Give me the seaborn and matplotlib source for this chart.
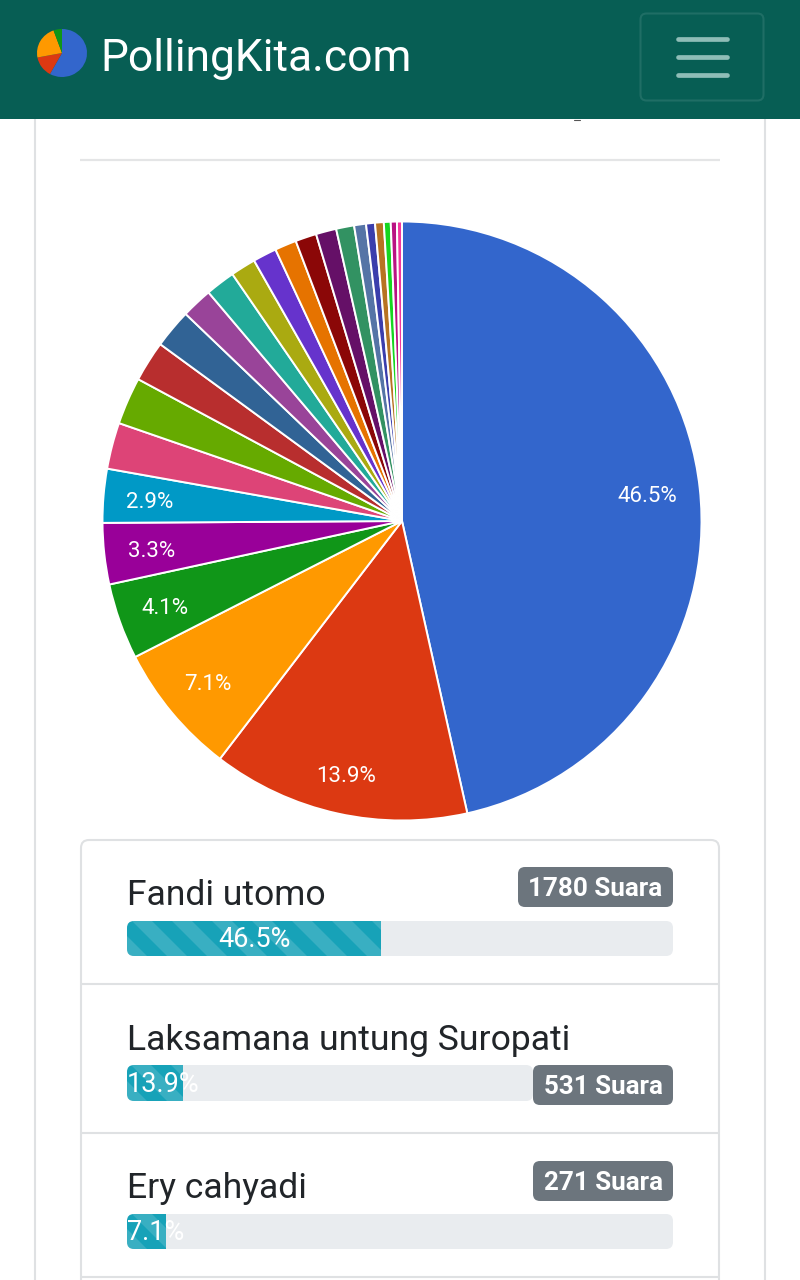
import matplotlib
matplotlib.use("Agg")
import matplotlib.pyplot as plt
import seaborn as sns
from matplotlib.patches import FancyBboxPatch, Polygon, Rectangle
from matplotlib.transforms import Bbox, TransformedBbox

# Vote shares, clockwise from twelve o'clock
shares = [46.5, 13.9, 7.1, 4.1, 3.3, 2.9, 2.5, 2.55, 2.2, 2.1, 1.67, 1.6,
          1.36, 1.28, 1.17, 1.14, 1.1, 0.97, 0.64, 0.48, 0.47, 0.37, 0.33, 0.27]
slice_colors = ["#3366cc", "#dc3912", "#ff9900", "#109618", "#990099", "#0099c6",
                "#dd4477", "#66aa00", "#b82e2e", "#316395", "#994499", "#22aa99",
                "#aaaa11", "#6633cc", "#e67300", "#8b0707", "#651067", "#329262",
                "#5574a6", "#3b3eac", "#b77322", "#16d620", "#b91383", "#f4359e"]

# Top candidates in the ranking list
candidates = ["Fandi utomo", "Laksamana untung Suropati", "Ery cahyadi"]
candidate_pct = [46.5, 13.9, 7.1]
candidate_votes = ["1780 Suara", "531 Suara", "271 Suara"]

# Site logo: a tiny pie
logo_shares = [58, 14, 22.5, 5.5]
logo_colors = ["#3366cc", "#dc3912", "#ff9900", "#109618"]

W, H = 800, 1280
HEADER = "#075e54"
RULE = "#dfe1e3"
INK = "#212529"
TRACK = "#e9ecef"
FILL = "#17a2b8"
BADGE = "#6c757d"


def px(size):
    """Font size in points for a size given in pixels at 100 dpi."""
    return size * 0.72


def axes_at(x0, y0, x1, y1, z):
    """Axes placed by its pixel box, with y counted from the top."""
    ax = fig.add_axes([x0 / W, 1 - y1 / H, (x1 - x0) / W, (y1 - y0) / H], zorder=z)
    ax.set_axis_off()
    return ax


sns.set_theme(style="white")
plt.rcParams["font.family"] = ["Roboto", "DejaVu Sans"]
fig = plt.figure(figsize=(W / 100, H / 100), dpi=100, facecolor="white")

# Page furniture drawn in pixel coordinates
page = axes_at(0, 0, W, H, 0)
page.set_xlim(0, W)
page.set_ylim(H, 0)
for x in (35, 765):
    page.plot([x, x], [119, H], color=RULE, lw=1.5, solid_capstyle="butt")
page.plot([80, 720], [159.5, 159.5], color="#e4e5e6", lw=1.6, solid_capstyle="butt")

# Ranking list frame
page.add_patch(FancyBboxPatch((81, 840), 638, 470, boxstyle="round,pad=0,rounding_size=8",
                              fc="white", ec=RULE, lw=1.5))
for y in (984, 1133, 1277):
    page.plot([81, 719], [y, y], color=RULE, lw=1.5, solid_capstyle="butt")

# Header band, with the descender of the scrolled-away heading just below it
page.plot([574, 580], [119.6, 119.6], color="#555555", lw=0.8, solid_capstyle="round")
page.add_patch(Rectangle((0, 0), W, 119, fc=HEADER, ec="none", zorder=5))
page.add_patch(FancyBboxPatch((640.5, 13.5), 123, 87, boxstyle="round,pad=0,rounding_size=6",
                              fc="none", ec="#1f6e65", lw=1.5, zorder=6))
for y in (38.5, 56.5, 75):
    page.plot([678, 727], [y, y], color="#8fbdb7", lw=3.4, solid_capstyle="round", zorder=6)
page.text(100.5, 71, "PollingKita.com", color="white", fontsize=px(44.4), zorder=6,
          ha="left", va="baseline")

logo = axes_at(37, 29, 87, 77, 3)
logo.pie(logo_shares, colors=logo_colors, startangle=90, counterclock=False, radius=1,
         wedgeprops=dict(linewidth=0))
logo.set_aspect("auto")
logo.set_xlim(-1, 1)
logo.set_ylim(-1, 1)

# Main pie
RADIUS = 299.5
pie_ax = axes_at(402 - RADIUS, 521 - RADIUS, 402 + RADIUS, 521 + RADIUS, 1)
_, _, pct_labels = pie_ax.pie(shares, colors=slice_colors, startangle=90, counterclock=False,
                              radius=1, wedgeprops=dict(edgecolor="white", linewidth=1.4),
                              autopct=lambda p: f"{p:.1f}%" if p >= 2.8 else "",
                              pctdistance=0.84,
                              textprops=dict(color="white", fontsize=px(22.3)))
pie_ax.set_xlim(-1, 1)
pie_ax.set_ylim(-1, 1)
# Hand placement of the labelled slices' text, in pixels
label_nudges = {0: (-5, -3), 1: (-2, -10), 2: (-1, -3), 3: (0, -3), 4: (0, -3), 5: (-2, -3)}
for i, (dx, dy) in label_nudges.items():
    lx, ly = pct_labels[i].get_position()
    pct_labels[i].set_position((lx + dx / RADIUS, ly + dy / RADIUS))

# One row per candidate: name, progress bar and vote badge
rows = [
    dict(name_y=905, track=(127, 921, 673, 956), badge=(518, 867, 673, 907)),
    dict(name_y=1050, track=(127, 1065, 533, 1101), badge=(533, 1065, 673, 1105)),
    dict(name_y=1198, track=(127, 1214, 673, 1249), badge=(533, 1161, 673, 1201)),
]
for name, pct, votes, row in zip(candidates, candidate_pct, candidate_votes, rows):
    x0, y0, x1, y1 = row["track"]
    bx0, by0, bx1, by1 = row["badge"]
    page.text(127, row["name_y"], name, color=INK, fontsize=px(35.5), ha="left", va="baseline")

    track = FancyBboxPatch((x0, y0), x1 - x0, y1 - y0, boxstyle="round,pad=0,rounding_size=7",
                           fc=TRACK, ec="none")
    page.add_patch(track)

    page.add_patch(FancyBboxPatch((bx0, by0), bx1 - bx0, by1 - by0,
                                  boxstyle="round,pad=0,rounding_size=7",
                                  fc=BADGE, ec="none", zorder=3))
    page.text((bx0 + bx1) / 2, (by0 + by1) / 2 + 2, votes, color="white", weight="bold",
              fontsize=px(26), ha="center", va="center", zorder=4)

    bar_ax = fig.add_axes([x0 / W, 1 - y1 / H, (x1 - x0) / W, (y1 - y0) / H], zorder=2)
    sns.barplot(x=[pct], y=[name], orient="h", color=FILL, saturation=1, width=1,
                ax=bar_ax, linewidth=0)
    bar_ax.set_xlim(0, 100)
    bar_ax.set_ylim(0.5, -0.5)
    bar_ax.set_axis_off()
    for bar in bar_ax.patches:
        bar.set_clip_path(track)

    # Diagonal stripes confined to the filled part of the bar
    units = 100 / (x1 - x0)
    height = y1 - y0
    period = 40
    fill_box = TransformedBbox(Bbox([[0, -0.5], [pct, 0.5]]), bar_ax.transData)
    start = -height - period
    while start < x1 - x0:
        stripe = Polygon([((start) * units, -0.5), ((start + period / 2) * units, -0.5),
                          ((start + period / 2 + height) * units, 0.5),
                          ((start + height) * units, 0.5)],
                         closed=True, fc="white", ec="none", alpha=0.15)
        bar_ax.add_patch(stripe)
        stripe.set_clip_box(fill_box)
        stripe.set_clip_path(track)
        start += period

    # Short bars cannot hold their label, which then starts at the bar's left end
    if pct < 20:
        bar_ax.text(0, 0.03, f"{pct}%", color="white", fontsize=px(27), ha="left", va="center")
    else:
        bar_ax.text(pct / 2, 0.03, f"{pct}%", color="white", fontsize=px(27),
                    ha="center", va="center")

fig.savefig("out.png", dpi=100, facecolor="white")
